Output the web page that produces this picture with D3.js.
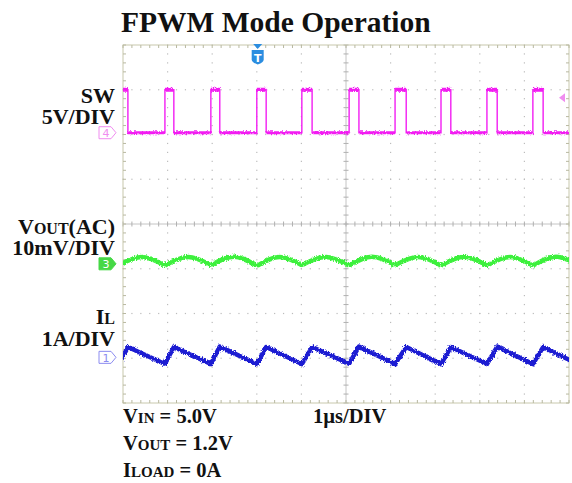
<!DOCTYPE html>
<html>
<head>
<meta charset="UTF-8">
<title>FPWM Mode Operation</title>
<script src="https://d3js.org/d3.v7.min.js"></script>
<style>
  body { margin: 0; background: #fff; }
  text { font-family: "Liberation Serif", "Times New Roman", serif; font-weight: bold; fill: #111; }
</style>
</head>
<body>
<svg></svg>
<script>
  let width = 572,
    height = 483;

  // switch node edges, microseconds
  let swRise = [-0.09, 0.94, 1.97, 3.00, 4.01, 5.07, 6.10, 7.13, 8.16, 9.19];
  let swFall = [0.11, 1.14, 2.17, 3.21, 4.24, 5.29, 6.35, 7.35, 8.39, 9.42];
  let swHigh = 4.8, swLow = 0; // volts
  let trigLevel = 3.9;         // volts
  let trigTime = 3.02;         // us

  // output ripple (AC), mV : cusp / hump pairs
  let voutT = [-0.09, 0.42, 0.94, 1.46, 1.97, 2.49, 3.00, 3.51, 4.01, 4.54, 5.07, 5.58, 6.10, 6.62, 7.13, 7.65, 8.16, 8.68, 9.19, 9.71, 10.22];
  let voutMv = [-0.3, 1.5, -0.4, 1.5, -0.3, 1.6, -0.5, 1.5, -0.3, 1.5, -0.4, 1.6, -0.3, 1.5, -0.4, 1.6, -0.4, 1.5, -0.4, 1.6, -0.3];

  // inductor current, A : valley / peak
  let ilT = [-0.09, 0.11, 0.94, 1.14, 1.97, 2.17, 3.00, 3.21, 4.01, 4.24, 5.07, 5.29, 6.10, 6.35, 7.13, 7.35, 8.16, 8.39, 9.19, 9.42, 10.22];
  let ilA = [-0.14, 0.23, -0.15, 0.23, -0.15, 0.24, -0.15, 0.23, -0.15, 0.23, -0.14, 0.24, -0.15, 0.23, -0.15, 0.23, -0.15, 0.24, -0.15, 0.23, -0.16];

  let pLeft = 123, pRight = 569, pTop = 45, pBottom = 403;
  let hDivs = 10, vDivs = 8;

  let svg = d3.select("svg")
    .attr("width", width)
    .attr("height", height)
    .attr("viewBox", "0 0 " + width + " " + height);

  let x = d3.scaleLinear().domain([0, hDivs]).range([pLeft, pRight]);
  let yDiv = d3.scaleLinear().domain([-vDivs / 2, vDivs / 2]).range([pBottom, pTop]);

  let channels = {
    sw: { id: "4", perDiv: 5, offset: 2.04, color: "#f21ef2", mark: "#f08cf0", filled: false },
    vout: { id: "3", perDiv: 10, offset: -0.89, color: "#3cf03c", mark: "#46d846", filled: true },
    il: { id: "1", perDiv: 1, offset: -2.98, color: "#1e1ed2", mark: "#8c8cf0", filled: false }
  };
  function yOf(ch) {
    return v => yDiv(ch.offset + v / ch.perDiv);
  }

  let defs = svg.append("defs");
  defs.append("clipPath").attr("id", "screen")
    .append("rect").attr("x", pLeft).attr("y", pTop)
    .attr("width", pRight - pLeft).attr("height", pBottom - pTop);
  let fuzz = defs.append("filter").attr("id", "fuzz")
    .attr("filterUnits", "userSpaceOnUse")
    .attr("x", 0).attr("y", 0).attr("width", width).attr("height", height);
  fuzz.append("feTurbulence").attr("type", "fractalNoise")
    .attr("baseFrequency", "0.9 0.6").attr("numOctaves", 2).attr("seed", 4).attr("result", "n");
  fuzz.append("feDisplacementMap").attr("in", "SourceGraphic").attr("in2", "n")
    .attr("scale", 4).attr("xChannelSelector", "R").attr("yChannelSelector", "G");

  // graticule
  let grid = svg.append("g").attr("id", "grid");
  let minor = d3.range(0, hDivs * 5 + 1).map(i => i / 5);
  let minorV = d3.range(0, vDivs * 5 + 1).map(i => i / 5 - vDivs / 2);
  let gridColor = "#bcbcbc";

  d3.range(1, hDivs).filter(i => i != hDivs / 2).forEach(i => {
    grid.append("g").selectAll("rect").data(minorV).enter().append("rect")
      .attr("x", x(i) - 0.6).attr("y", d => yDiv(d) - 0.6)
      .attr("width", 1.2).attr("height", 1.2).attr("fill", gridColor);
  });
  d3.range(1, vDivs).map(j => j - vDivs / 2).filter(j => j != 0).forEach(j => {
    grid.append("g").selectAll("rect").data(minor).enter().append("rect")
      .attr("x", d => x(d) - 0.6).attr("y", yDiv(j) - 0.6)
      .attr("width", 1.2).attr("height", 1.2).attr("fill", gridColor);
  });

  // centre cross with ticks
  grid.append("line").attr("x1", pLeft).attr("x2", pRight)
    .attr("y1", yDiv(0)).attr("y2", yDiv(0)).attr("stroke", "#c4c4c4");
  grid.append("line").attr("x1", x(hDivs / 2)).attr("x2", x(hDivs / 2))
    .attr("y1", pTop).attr("y2", pBottom).attr("stroke", "#c4c4c4");
  grid.append("g").selectAll("line").data(minor).enter().append("line")
    .attr("x1", d => x(d)).attr("x2", d => x(d))
    .attr("y1", yDiv(0) - 2.5).attr("y2", yDiv(0) + 2.5).attr("stroke", "#b0b0b0");
  grid.append("g").selectAll("line").data(minorV).enter().append("line")
    .attr("y1", d => yDiv(d)).attr("y2", d => yDiv(d))
    .attr("x1", x(hDivs / 2) - 2.5).attr("x2", x(hDivs / 2) + 2.5).attr("stroke", "#b0b0b0");

  // border with inward ticks
  grid.append("rect").attr("x", pLeft).attr("y", pTop)
    .attr("width", pRight - pLeft).attr("height", pBottom - pTop)
    .attr("fill", "none").attr("stroke", "#c8c8ac");
  [pTop, pBottom].forEach((yy, k) => {
    grid.append("g").selectAll("line").data(minor).enter().append("line")
      .attr("x1", d => x(d)).attr("x2", d => x(d))
      .attr("y1", yy).attr("y2", yy + (k ? -3 : 3)).attr("stroke", "#b8b8a0");
  });
  [pLeft, pRight].forEach((xx, k) => {
    grid.append("g").selectAll("line").data(minorV).enter().append("line")
      .attr("y1", d => yDiv(d)).attr("y2", d => yDiv(d))
      .attr("x1", xx).attr("x2", xx + (k ? -3 : 3)).attr("stroke", "#b8b8a0");
  });

  let traces = svg.append("g").attr("clip-path", "url(#screen)");

  // SW trace
  let ySw = yOf(channels.sw);
  let swPts = [[-0.3, swLow]];
  swRise.forEach((r, i) => {
    swPts.push([r, swLow], [r, swHigh], [swFall[i], swHigh], [swFall[i], swLow]);
  });
  swPts.push([10.3, swLow]);
  let line = d3.line().x(d => x(d[0]));

  traces.append("path")
    .attr("d", line.y(d => ySw(d[1]))(swPts))
    .attr("fill", "none").attr("stroke", channels.sw.color).attr("stroke-width", 1.4);
  let flats = [];
  swRise.forEach((r, i) => {
    flats.push([[r, swHigh], [swFall[i], swHigh]]);
    let next = i + 1 < swRise.length ? swRise[i + 1] : 10.3;
    flats.push([[swFall[i], swLow], [next, swLow]]);
  });
  traces.append("g").attr("filter", "url(#fuzz)").selectAll("path").data(flats).enter().append("path")
    .attr("d", d => line.y(p => ySw(p[1]))(d))
    .attr("fill", "none").attr("stroke", channels.sw.color)
    .attr("stroke-width", d => d[0][1] == swHigh ? 4 : 3);

  // VOUT ripple, one arc per switching period
  let yVo = yOf(channels.vout);
  let arcs = [];
  for (let i = 0; i + 2 < voutT.length; i += 2) {
    arcs.push([0, 1, 2].map(k => [voutT[i + k], voutMv[i + k]]));
  }
  let arcLine = d3.line().x(d => x(d[0])).y(d => yVo(d[1])).curve(d3.curveMonotoneX);
  traces.append("g").attr("filter", "url(#fuzz)").selectAll("path").data(arcs).enter().append("path")
    .attr("d", arcLine)
    .attr("fill", "none").attr("stroke", channels.vout.color).attr("stroke-width", 4.5);

  // inductor current
  let yIl = yOf(channels.il);
  traces.append("path")
    .attr("filter", "url(#fuzz)")
    .attr("d", d3.line().x((d, i) => x(ilT[i])).y(d => yIl(d))(ilA))
    .attr("fill", "none").attr("stroke", channels.il.color).attr("stroke-width", 4.5)
    .attr("stroke-linejoin", "round");

  // ground markers on the left
  [channels.sw, channels.vout, channels.il].forEach(ch => {
    let gy = yOf(ch)(0);
    let g = svg.append("g").attr("transform", "translate(99," + gy + ")");
    g.append("path").attr("d", "M0,-6H12L17,0L12,6H0Z")
      .attr("fill", ch.filled ? ch.mark : "#fff")
      .attr("stroke", ch.mark).attr("stroke-width", 1);
    g.append("text").attr("x", 7).attr("y", 4.5).attr("text-anchor", "middle")
      .style("font-family", "DejaVu Sans, sans-serif").style("font-weight", "normal")
      .style("font-size", "11px").style("fill", ch.filled ? "#fff" : ch.mark)
      .text(ch.id);
  });

  // trigger level arrow
  let ty = ySw(trigLevel);
  svg.append("path").attr("d", "M" + (pRight - 10) + "," + ty + "l6,-4.5v9z").attr("fill", "#f08cf0");

  // trigger position marker
  let tx = x(trigTime);
  let trig = svg.append("g").attr("transform", "translate(" + tx + "," + pTop + ")");
  trig.append("path").attr("d", "M-4.5,-1H4.5L0,4Z").attr("fill", "#2b8de0");
  trig.append("path").attr("d", "M-6,5H6V14.5Q6,17.5 0,19.5Q-6,17.5 -6,14.5Z").attr("fill", "#2b8de0");
  trig.append("text").attr("x", 0).attr("y", 16.5).attr("text-anchor", "middle")
    .style("font-family", "DejaVu Sans, sans-serif").style("font-size", "11px").style("fill", "#fff")
    .text("T");

  // title
  svg.append("text").attr("x", 121).attr("y", 32)
    .style("font-size", "29.5px").text("FPWM Mode Operation");

  // channel labels
  function label(parts, xx, yy, size, anchor) {
    let t = svg.append("text").attr("x", xx).attr("y", yy)
      .attr("text-anchor", anchor).style("font-size", size + "px");
    parts.forEach(p => {
      let s = t.append("tspan").text(p[0]);
      if (p[1]) s.style("font-size", Math.round(size * 0.74) + "px");
    });
  }
  label([["SW"]], 115, 103, 22, "end");
  label([["5V/DIV"]], 115, 124, 22, "end");
  label([["V"], ["OUT", 1], ["(AC)"]], 115, 234, 22, "end");
  label([["10mV/DIV"]], 115, 255, 22, "end");
  label([["I"], ["L", 1]], 115, 324, 22, "end");
  label([["1A/DIV"]], 115, 346, 22, "end");

  label([["V"], ["IN", 1], [" = 5.0V"]], 123, 423, 20.5, "start");
  label([["1\u00b5s/DIV"]], 313, 423, 20.5, "start");
  label([["V"], ["OUT", 1], [" = 1.2V"]], 123, 450, 20.5, "start");
  label([["I"], ["LOAD", 1], [" = 0A"]], 123, 477, 20.5, "start");
</script>
</body>
</html>
